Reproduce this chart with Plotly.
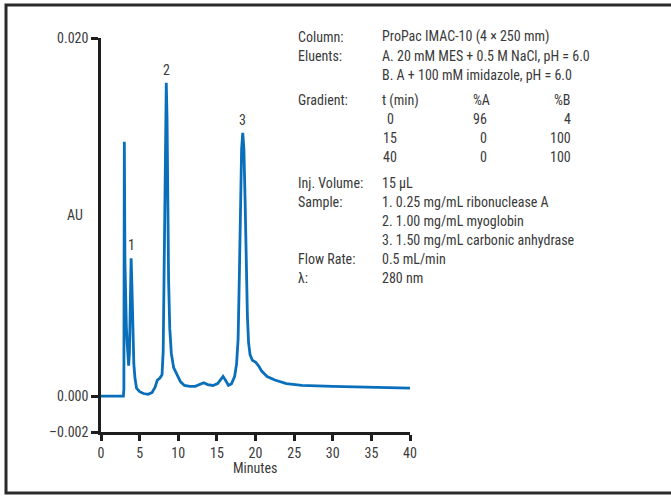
import plotly.graph_objects as go

# Chromatogram trace: retention time (min) and absorbance (AU)
time_min = [0.0, 2.9, 2.96, 3.02, 3.1, 3.2, 3.28, 3.38, 3.5, 3.58, 3.68, 3.8, 3.9, 4.0, 4.12,
            4.25, 4.4, 4.6, 5.0, 5.5, 6.1, 6.6, 7.0, 7.3, 7.6, 7.9, 8.05, 8.15, 8.25, 8.35,
            8.45, 8.55, 8.65, 8.75, 8.9, 9.1, 9.4, 9.8, 10.3, 10.8, 11.5, 12.2, 12.8, 13.3,
            13.8, 14.5, 15.1, 15.5, 15.8, 16.1, 16.5, 16.9, 17.3, 17.55, 17.75, 17.9, 18.05,
            18.2, 18.35, 18.5, 18.65, 18.8, 18.95, 19.1, 19.3, 19.6, 20.0, 20.4, 20.8, 21.5,
            22.5, 24.0, 26.0, 30.0, 35.0, 40.0]
absorbance = [0.0, 0.0, 0.0004, 0.0142, 0.0075, 0.0045, 0.0039, 0.0030, 0.0020, 0.0017, 0.0024,
              0.0068, 0.0077, 0.0062, 0.0035, 0.0018, 0.0010, 0.00045, 0.00025, 0.00015, 0.0001,
              0.0002, 0.0005, 0.0009, 0.0010, 0.0012, 0.0025, 0.006, 0.011, 0.0155, 0.0175,
              0.0155, 0.0105, 0.0065, 0.0038, 0.0024, 0.0016, 0.0012, 0.0008, 0.0006, 0.00055,
              0.00055, 0.00065, 0.00075, 0.00065, 0.0006, 0.0007, 0.0009, 0.0011, 0.0009,
              0.0006, 0.0007, 0.0011, 0.0018, 0.0032, 0.0065, 0.0105, 0.0138, 0.0147, 0.0138,
              0.0110, 0.0070, 0.0045, 0.0030, 0.0023, 0.0020, 0.0019, 0.0017, 0.0014, 0.0011,
              0.0009, 0.0007, 0.0006, 0.00055, 0.0005, 0.00045]

# Peak identification labels
peak_labels = ["1", "2", "3"]
peak_times = [3.9, 8.45, 18.35]
peak_heights = [0.0077, 0.0175, 0.0147]

x_ticks = [0, 5, 10, 15, 20, 25, 30, 35, 40]
y_ticks = [0.020, 0.000, -0.002]
y_tick_text = ["0.020", "0.000", "\u20130.002"]

FONT_FAMILY = "Liberation Sans Narrow, Roboto Condensed, Arial Narrow, Roboto, sans-serif"
TEXT = "#3a3a3a"
BLUE = "#0a6fba"


def font(size=14):
    return dict(family=FONT_FAMILY, size=size, color=TEXT)


W, H = 671, 496
L, R, T, B = 101, 410, 38, 432  # plot area in pixels


def px(x):
    return (x - L) / (R - L)


def py(y):
    return (B - y) / (B - T)


fig = go.Figure()
fig.add_trace(go.Scatter(x=time_min, y=absorbance, mode="lines",
                         line=dict(color=BLUE, width=2.8), hoverinfo="skip"))

for lab, t, h in zip(peak_labels, peak_times, peak_heights):
    fig.add_annotation(x=t, y=h, xref="x", yref="y", text=lab, showarrow=False,
                       yanchor="bottom", yshift=3, font=font())

# Method conditions block
left_col = 296
right_col = 380
rows = [
    (37, "Column:", "ProPac IMAC-10 (4 \u00d7 250 mm)"),
    (56, "Eluents:", "A. 20 mM MES + 0.5 M NaCl, pH = 6.0"),
    (75, "", "B. A + 100 mM imidazole, pH = 6.0"),
    (100, "Gradient:", "t (min)"),
    (183, "Inj. Volume:", "15 \u00b5L"),
    (202, "Sample:", "1. 0.25 mg/mL ribonuclease A"),
    (221, "", "2. 1.00 mg/mL myoglobin"),
    (240, "", "3. 1.50 mg/mL carbonic anhydrase"),
    (259, "Flow Rate:", "0.5 mL/min"),
    (278, "\u03bb:", "280 nm"),
]
for yy, k, v in rows:
    if k:
        fig.add_annotation(x=px(left_col), y=py(yy), xref="paper", yref="paper", text=k,
                           showarrow=False, xanchor="left", yanchor="middle", font=font())
    fig.add_annotation(x=px(right_col), y=py(yy), xref="paper", yref="paper", text=v,
                       showarrow=False, xanchor="left", yanchor="middle", font=font())

# Gradient table
grad_t = ["0", "15", "40"]
grad_a = ["96", "0", "0"]
grad_b = ["4", "100", "100"]
headers = [(482, "%A", "center"), (573, "%B", "right")]
for xx, txt, anc in headers:
    fig.add_annotation(x=px(xx), y=py(100), xref="paper", yref="paper", text=txt,
                       showarrow=False, xanchor=anc, yanchor="middle", font=font())
for i, yy in enumerate([119, 138, 157]):
    for xx, txt, anc in [(390, grad_t[i], "center"), (489, grad_a[i], "right"),
                         (573, grad_b[i], "right")]:
        fig.add_annotation(x=px(xx), y=py(yy), xref="paper", yref="paper", text=txt,
                           showarrow=False, xanchor=anc, yanchor="middle", font=font())

# Axis titles
fig.add_annotation(x=px(75), y=py(215), xref="paper", yref="paper", text="AU",
                   showarrow=False, xanchor="center", yanchor="middle", font=font())
fig.add_annotation(x=px(255), y=py(468), xref="paper", yref="paper", text="Minutes",
                   showarrow=False, xanchor="center", yanchor="middle", font=font())

# Outer frame
fig.add_shape(type="rect", xref="paper", yref="paper",
              x0=px(6), x1=px(690), y0=py(493), y1=py(5),
              line=dict(color="#2a2a2a", width=3), fillcolor="rgba(0,0,0,0)", layer="below")

axis_common = dict(showline=True, linecolor="#1e1e1e", linewidth=2.5, ticks="outside",
                   tickcolor="#1e1e1e", tickwidth=2.5, showgrid=False,
                   zeroline=False, mirror=False, tickfont=font())

fig.update_xaxes(range=[0, 40], tickvals=x_ticks, ticklen=6, **axis_common)
fig.update_yaxes(range=[-0.002, 0.020], tickvals=y_ticks, ticktext=y_tick_text,
                 ticklen=7, **axis_common)

fig.update_layout(width=W, height=H, showlegend=False,
                  margin=dict(l=L, r=W - R, t=T, b=H - B),
                  paper_bgcolor="white", plot_bgcolor="white")

fig.write_html("out.html")
